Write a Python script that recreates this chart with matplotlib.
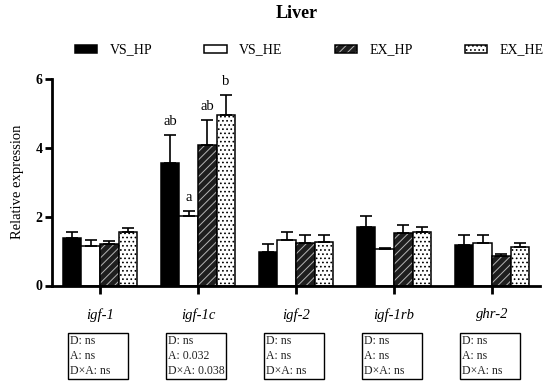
import matplotlib
matplotlib.use("Agg")
import matplotlib.pyplot as plt
import matplotlib.transforms as mtransforms
from matplotlib.patches import Rectangle
import numpy as np

plt.rcParams['font.family'] = ['Liberation Serif', 'DejaVu Serif']
plt.rcParams['hatch.linewidth'] = 0.7

genes = ["igf-1", "igf-1c", "igf-2", "igf-1rb", "ghr-2"]
groups = ["VS_HP", "VS_HE", "EX_HP", "EX_HE"]

# mean values per group
vs_hp = [1.39, 3.55, 0.97, 1.71, 1.18]
vs_he = [1.14, 2.01, 1.32, 1.05, 1.24]
ex_hp = [1.20, 4.07, 1.24, 1.52, 0.85]
ex_he = [1.55, 4.95, 1.27, 1.55, 1.13]

# upper error (SEM) per group
vs_hp_err = [0.17, 0.82, 0.24, 0.30, 0.30]
vs_he_err = [0.18, 0.16, 0.23, 0.05, 0.24]
ex_hp_err = [0.08, 0.73, 0.23, 0.23, 0.07]
ex_he_err = [0.11, 0.58, 0.21, 0.14, 0.11]

# letters over igf-1c bars
letters = ["ab", "a", "ab", "b"]
letter_gene = 1

stats = [
    "D: ns\nA: ns\nD×A: ns",
    "D: ns\nA: 0.032\nD×A: 0.038",
    "D: ns\nA: ns\nD×A: ns",
    "D: ns\nA: ns\nD×A: ns",
    "D: ns\nA: ns\nD×A: ns",
]

fig = plt.figure(figsize=(5.5, 3.87), dpi=100)
W, H = 550, 387
ax = fig.add_axes([52 / W, (H - 285.5) / H, (540 - 52) / W, (285.5 - 79) / H])

x = np.arange(len(genes))
bw = 0.19
offs = np.array([-1.5, -0.5, 0.5, 1.5]) * bw
means = [vs_hp, vs_he, ex_hp, ex_he]
errs = [vs_hp_err, vs_he_err, ex_hp_err, ex_he_err]

ekw = dict(ecolor='black', elinewidth=1.2, capthick=1.2)
lw = 1.1

h0 = ax.bar(x + offs[0], vs_hp, bw, color='black', edgecolor='black', linewidth=lw)
h1 = ax.bar(x + offs[1], vs_he, bw, color='white', edgecolor='black', linewidth=lw)
h2a = ax.bar(x + offs[2], ex_hp, bw, color='#1e1e1e', edgecolor='#b5b5b5',
             hatch='////', linewidth=0)
h2b = ax.bar(x + offs[2], ex_hp, bw, fill=False, edgecolor='black', linewidth=lw)
h3a = ax.bar(x + offs[3], ex_he, bw, color='white', edgecolor='black',
             hatch='....', linewidth=0)
h3b = ax.bar(x + offs[3], ex_he, bw, fill=False, edgecolor='black', linewidth=lw)

for k in range(4):
    ax.errorbar(x + offs[k], means[k], yerr=[np.zeros(len(genes)), errs[k]],
                fmt='none', capsize=4, zorder=1, **ekw)

for k, lab in enumerate(letters):
    top = means[k][letter_gene] + errs[k][letter_gene]
    ax.annotate(lab, (x[letter_gene] + offs[k], top), xytext=(0, 5),
                textcoords='offset points', ha='center', va='bottom', fontsize=10.5)

ax.set_xlim(-0.49, 4.49)
ax.set_ylim(0, 6)
ax.set_yticks([0, 2, 4, 6])
ax.set_xticks(x)
ax.set_xticklabels(genes, fontstyle='italic', fontsize=10.5)
for t in ax.get_yticklabels():
    t.set_fontweight('bold')
    t.set_fontsize(10)
ax.tick_params(axis='y', width=2, length=5, pad=2)
ax.tick_params(axis='x', width=2, length=6, pad=10)
ax.spines['top'].set_visible(False)
ax.spines['right'].set_visible(False)
ax.spines['left'].set_linewidth(2)
ax.spines['bottom'].set_linewidth(2)
ax.set_ylabel("Relative expression", fontsize=10.5, labelpad=8)

fig.text(297 / W, (H - 14) / H, "Liver", ha='center', va='center',
         fontsize=13, fontweight='bold')

leg = fig.legend([h0, h1, (h2a, h2b), (h3a, h3b)], groups, loc='center left',
                 bbox_to_anchor=(75 / W, (H - 50) / H), ncol=4, frameon=False,
                 fontsize=10, handlelength=1.6, handleheight=0.5,
                 handletextpad=0.9, columnspacing=3.75, borderpad=0,
                 borderaxespad=0)

# statistics boxes under each gene
trans = mtransforms.blended_transform_factory(ax.transData, fig.transFigure)
box_w = 0.62
box_top = (H - 333) / H
box_bot = (H - 379) / H
for i, s in enumerate(stats):
    cx = x[i] - 0.02
    ax.add_patch(Rectangle((cx - box_w / 2, box_bot), box_w, box_top - box_bot,
                           transform=trans, fill=False, edgecolor='black',
                           linewidth=1.0, clip_on=False))
    ax.text(cx - box_w / 2 + 0.025, (box_top + box_bot) / 2, s, transform=trans,
            ha='left', va='center', fontsize=8.5, linespacing=1.35,
            color='#222222')

fig.savefig("out.png", dpi=100)
